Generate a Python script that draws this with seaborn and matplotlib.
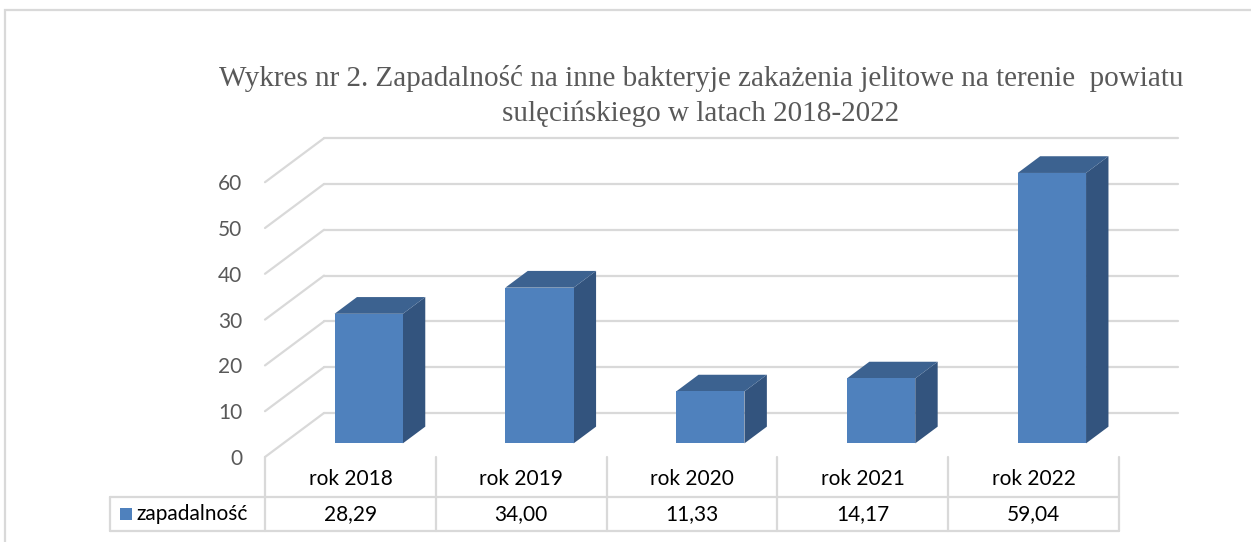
import numpy as np
import pandas as pd
import seaborn as sns
import matplotlib.pyplot as plt
from matplotlib import transforms
from matplotlib.patches import Polygon, Rectangle

# data
years = ['rok 2018', 'rok 2019', 'rok 2020', 'rok 2021', 'rok 2022']
values = [28.29, 34.00, 11.33, 14.17, 59.04]
value_labels = ['28,29', '34,00', '11,33', '14,17', '59,04']
series_name = 'zapadalność'
yticks = [0, 10, 20, 30, 40, 50, 60]
title = ('Wykres nr 2. Zapadalność na inne bakteryje zakażenia jelitowe na terenie  powiatu\n'
         'sulęcińskiego w latach 2018-2022')

FRONT = '#4f81bd'
TOP = '#3c6290'
SIDE = '#33547e'
GRID = '#d9d9d9'
GREY_TXT = '#595959'

W, H = 1251, 542
PX_CAT = 170.8          # pixels per category
PX_UNIT = 4.58          # pixels per value unit
DEPTH_X = 59 / PX_CAT   # full depth of the 3d box, in data units
DEPTH_Y = 44 / PX_UNIT
D1, D2 = 0.31, 0.69     # front / back of the bars as fraction of depth

sns.set_style('white')
plt.rcParams['font.family'] = ['Lato', 'DejaVu Sans']

fig = plt.figure(figsize=(W / 100, H / 100), dpi=100)
ax_left, ax_right, ax_bottom, ax_top = 265, 1185, 457, 125
ax = fig.add_axes([ax_left / W, 1 - ax_bottom / H,
                   (ax_right - ax_left) / W, (ax_bottom - ax_top) / H])

df = pd.DataFrame({'rok': years, 'zapadalnosc': values})
sns.barplot(data=df, x='rok', y='zapadalnosc', color=FRONT, saturation=1,
            width=0.4, linewidth=0, ax=ax, zorder=5)

x0, x1 = -0.5, len(years) - 0.5
ax.set_xlim(x0, x0 + (ax_right - ax_left) / PX_CAT)
ax.set_ylim(0, (ax_bottom - ax_top) / PX_UNIT)


def proj(x, y, d):
    return (x + d * DEPTH_X, y + d * DEPTH_Y)


# back wall + side wall grid
for v in yticks:
    ax.plot([x0 + DEPTH_X, x1 + DEPTH_X], [v + DEPTH_Y] * 2, color=GRID, lw=1.6, zorder=1)
    ax.plot([x0, x0 + DEPTH_X], [v, v + DEPTH_Y], color=GRID, lw=1.6, zorder=1, clip_on=False)

# 3d bars: shift the seaborn bars back and add top / side faces
for bar in list(ax.patches):
    bx, bw, bh = bar.get_x(), bar.get_width(), bar.get_height()
    bar.set_transform(transforms.Affine2D().translate(D1 * DEPTH_X, D1 * DEPTH_Y) + ax.transData)
    side = [proj(bx + bw, 0, D1), proj(bx + bw, bh, D1), proj(bx + bw, bh, D2), proj(bx + bw, 0, D2)]
    top = [proj(bx, bh, D1), proj(bx + bw, bh, D1), proj(bx + bw, bh, D2), proj(bx, bh, D2)]
    ax.add_patch(Polygon(side, closed=True, fc=SIDE, ec='none', zorder=4))
    ax.add_patch(Polygon(top, closed=True, fc=TOP, ec='none', zorder=4))

ax.set_xlabel('')
ax.set_ylabel('')
ax.set_yticks(yticks)
ax.set_yticklabels([str(v) for v in yticks])
ax.tick_params(axis='y', length=0, pad=16.5, labelsize=15, labelcolor=GREY_TXT)
ax.tick_params(axis='x', bottom=False, labelbottom=False)
sns.despine(ax=ax, left=True, bottom=True)
ax.patch.set_alpha(0)

# data table
trans = transforms.blended_transform_factory(ax.transData, fig.transFigure)


def fy(py):
    return 1 - py / H


row_left = x0 - 155 / PX_CAT
head_top, mid, bot = 457, 497, 531
line_kw = dict(color=GRID, lw=1.6, transform=trans, clip_on=False)
ax.plot([row_left, x1], [fy(mid)] * 2, **line_kw)
ax.plot([row_left, x1], [fy(bot)] * 2, **line_kw)
ax.plot([row_left, row_left], [fy(mid), fy(bot)], **line_kw)
for k in range(len(years) + 1):
    ax.plot([x0 + k, x0 + k], [fy(head_top), fy(bot)], **line_kw)

for i, (yr, lab) in enumerate(zip(years, value_labels)):
    ax.text(i, fy(479), yr, transform=trans, ha='center', va='center', fontsize=15, color='black')
    ax.text(i, fy(514), lab, transform=trans, ha='center', va='center', fontsize=15, color='black')

ax.add_patch(Rectangle((row_left + 10 / PX_CAT, fy(520)), 12 / PX_CAT, 12 / H,
                       transform=trans, fc=FRONT, ec='none', clip_on=False))
ax.text(row_left + 26 / PX_CAT, fy(514), series_name, transform=trans,
        ha='left', va='center', fontsize=15, color='black')

# title
fig.text(701 / W, fy(96), title, ha='center', va='center', fontsize=21,
         color=GREY_TXT, family='Liberation Serif', linespacing=1.4)

# outer chart frame
fig.add_artist(Rectangle((5 / W, -0.1), 1.2, 1.1 - 10 / H, transform=fig.transFigure,
                         fill=False, ec=GRID, lw=1.6))

fig.savefig('out.png', dpi=100)
